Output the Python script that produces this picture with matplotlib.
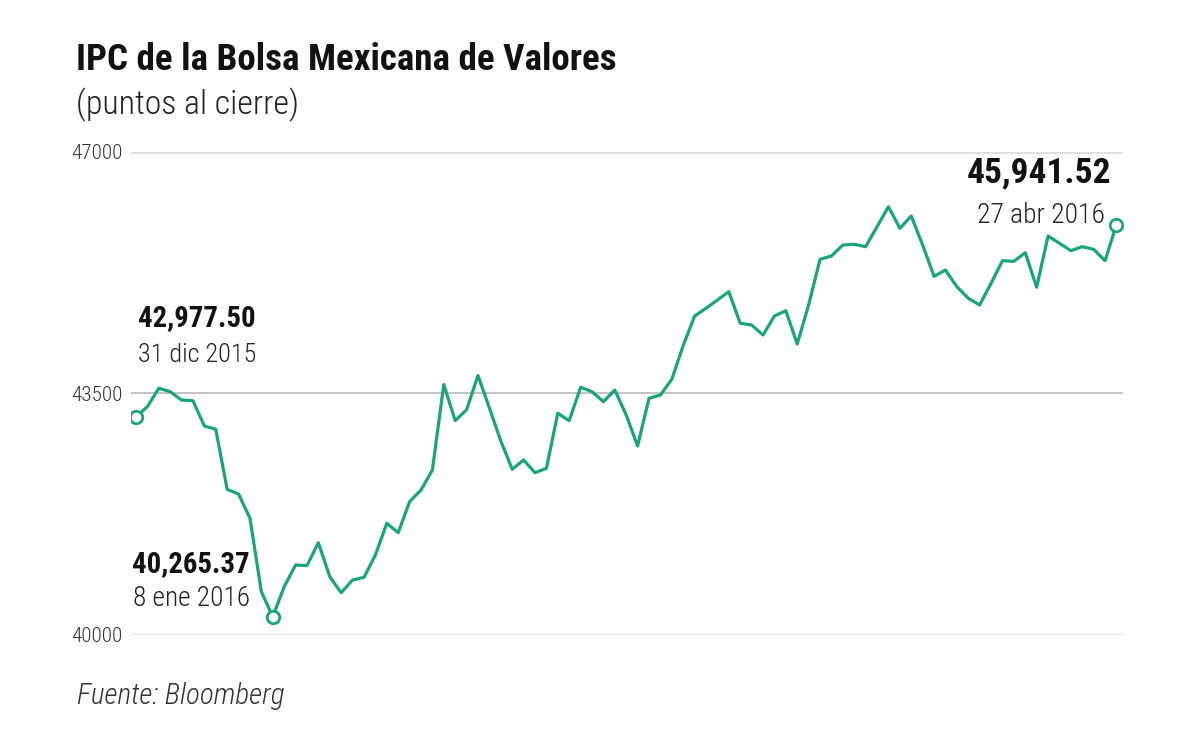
import numpy as np
import matplotlib
matplotlib.use("Agg")
import matplotlib.pyplot as plt

plt.rcParams['font.family'] = ['Roboto Condensed', 'DejaVu Sans']

## datos (puntos al cierre, 31 dic 2015 - 27 abr 2016)
ipc = [43160, 43305, 43572, 43523, 43402, 43392, 43026, 42978, 42109, 42041,
       41690, 40627, 40265, 40699, 41013, 41005, 41336, 40844, 40612, 40796,
       40835, 41158, 41617, 41481, 41930, 42099, 42389, 43627, 43103, 43262,
       43757, 43287, 42809, 42399, 42534, 42350, 42413, 43210, 43103, 43586,
       43523, 43378, 43547, 43185, 42736, 43427, 43475, 43702, 44191, 44618,
       44730, 44850, 44970, 44513, 44488, 44343, 44618, 44695, 44213, 44778,
       45439, 45487, 45646, 45657, 45622, 45911, 46201, 45888, 46066, 45646,
       45193, 45284, 45043, 44875, 44778, 45092, 45419, 45410, 45535, 45034,
       45777, 45671, 45564, 45622, 45584, 45419, 45942]
yticks = [40000, 43500, 47000]
ytick_labels = ['40000', '43500', '47000']
etiquetas = [(0, '42,977.50', '31 dic 2015'),
             (12, '40,265.37', '8 ene 2016'),
             (86, '45,941.52', '27 abr 2016')]

verde = '#1ba47b'
x = np.arange(len(ipc))

fig = plt.figure(figsize=(12, 7.32), dpi=100)
ax = fig.add_axes([130.7/1200, 1-635/732, (1123.3-130.7)/1200, (635-151.5)/732])
renderer = fig.canvas.get_renderer()


def ajustar(t, ancho):
    # escala el tamano de letra para que el texto mida 'ancho' pixeles
    w = t.get_window_extent(renderer).width
    t.set_fontsize(t.get_fontsize() * ancho / w)


for v in yticks:
    if v == 43500:
        ax.axhline(v, color='#b8b8b8', lw=1.2, zorder=1)
    else:
        ax.axhline(v, color='#dedede', lw=2, zorder=1)

ax.plot(x, ipc, color=verde, lw=2.3, zorder=3)
idx = [e[0] for e in etiquetas]
ax.plot(x[idx], np.array(ipc)[idx], 'o', ms=9, mfc='white', mec=verde, mew=2, zorder=4)

ax.set_xlim(-0.46, 86.6)
ax.set_ylim(40000, 47000)
ax.set_xticks([])
ax.set_yticks(yticks)
ax.set_yticklabels(ytick_labels)
ax.tick_params(axis='y', length=0, pad=6, labelsize=16, labelcolor='#333333')
for lab in ax.get_yticklabels():
    lab.set_fontweight(300)
for s in ax.spines.values():
    s.set_visible(False)
for lab in ax.get_yticklabels():
    ajustar(lab, 52)

# anotaciones: desplazamientos en pixeles y anchos medidos en la referencia
estilos = {0: ((2, 91), (2, 55), 'left', 117, 119),
           12: ((-23, 45), (-23, 11), 'right', 117, 117),
           86: ((-5, 42), (-12, 2), 'right', 144, 128)}
for i, num, fecha in etiquetas:
    off1, off2, ha, w1, w2 = estilos[i]
    t1 = ax.annotate(num, (x[i], ipc[i]), xytext=off1, textcoords='offset pixels',
                     ha=ha, va='baseline', fontsize=22, fontweight='bold', color='#111111')
    t2 = ax.annotate(fecha, (x[i], ipc[i]), xytext=off2, textcoords='offset pixels',
                     ha=ha, va='baseline', fontsize=20, fontweight=300, color='#222222')
    ajustar(t1, w1)
    ajustar(t2, w2)

titulo = fig.text(76/1200, 1-70/732, 'IPC de la Bolsa Mexicana de Valores',
                  fontsize=28, fontweight='bold', color='#111111', va='baseline')
ajustar(titulo, 540)
sub = fig.text(76/1200, 1-114/732, '(puntos al cierre)',
               fontsize=22, fontweight=300, color='#222222', va='baseline')
ajustar(sub, 223)
fuente = fig.text(77/1200, 1-704/732, 'Fuente: Bloomberg',
                  fontsize=20, fontweight=300, style='italic', color='#333333', va='baseline')
ajustar(fuente, 208)

fig.savefig('out.png', dpi=100)
